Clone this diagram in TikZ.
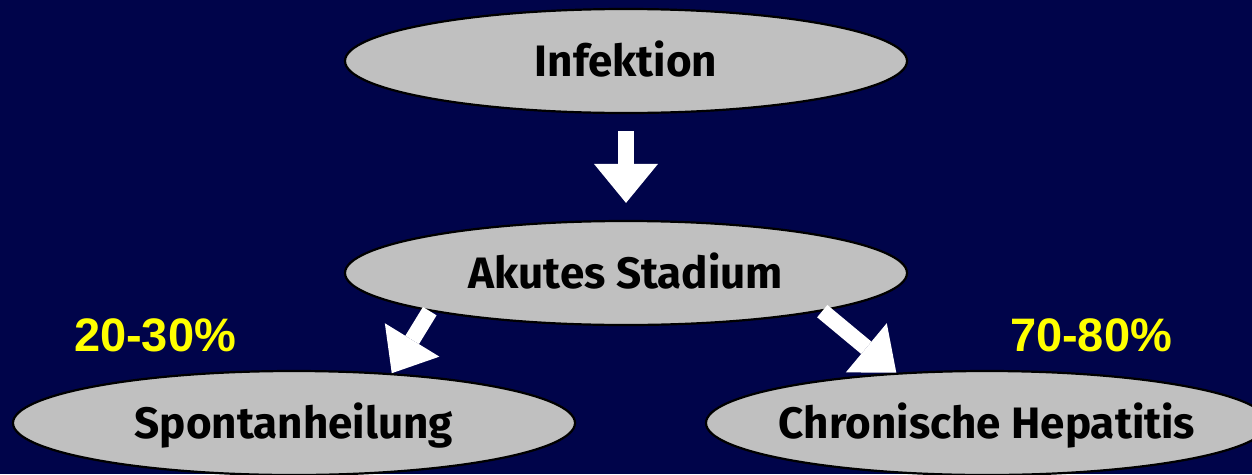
\documentclass[tikz,border=0pt]{standalone}
\usepackage{fontspec}
\usetikzlibrary{shapes.geometric,arrows.meta}
\newfontfamily\lblfont{Fira Sans}
\newfontfamily\pctfont{Liberation Sans}
\definecolor{navybg}{RGB}{0,4,74}
\definecolor{stagefill}{RGB}{192,192,192}
\definecolor{pctyellow}{RGB}{255,255,0}
\begin{document}
\begin{tikzpicture}[x=1pt,y=-1pt,
  stage/.style={ellipse, draw=black, line width=2.2pt, fill=stagefill,
    minimum width=562pt, minimum height=104pt, inner sep=0pt,
    text height=30.3pt, text depth=0pt,
    font=\lblfont\bfseries\fontsize{44}{48}\selectfont, text=black},
  pct/.style={font=\pctfont\bfseries\fontsize{47}{52}\selectfont, text=pctyellow, inner sep=0pt},
  flow/.style={draw=white, line width=16pt,
    -{Triangle[width=64pt,length=39pt,line width=0pt]}}]
  % background
  \fill[navybg] (0,0) rectangle (1252,474);
  \useasboundingbox (0,0) rectangle (1252,474);

  % stages
  \node[stage] (inf)    at (626,61)  {\makebox[0pt]{Infektion}};
  \node[stage] (akut)   at (626,273) {\makebox[0pt]{Akutes Stadium}};
  \node[stage] (spont)  at (294,423) {\makebox[0pt]{Spontanheilung}};
  \node[stage] (chron)  at (987,423) {\makebox[0pt]{Chronische Hepatitis}};

  % proportions
  \node[pct] (p1) at (155,335) {20-30\%};
  \node[pct] (p2) at (1091,335) {70-80\%};

  % flow arrows
  \draw[flow, shorten <=17pt, shorten >=17pt] (inf.south) -- (akut.north);
  \draw[flow] (akut.191.6) -- (spont.27);
  \draw[flow] (akut.349.9) -- (chron.151.6);
\end{tikzpicture}
\end{document}
